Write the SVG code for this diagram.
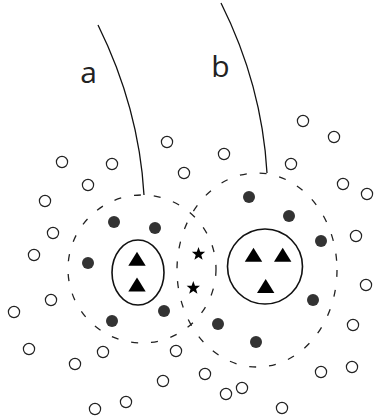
<svg xmlns="http://www.w3.org/2000/svg" width="374" height="419" viewBox="0 0 374 419">
<defs>
<style>
.open{fill:#fff;stroke:#222;stroke-width:1.2}
.dot{fill:#333}
.zone{fill:none;stroke:#222;stroke-width:1.3;stroke-dasharray:7 13}
.wall{fill:none;stroke:#111;stroke-width:1.6}
.lead{fill:none;stroke:#111;stroke-width:1.3}
.tri{fill:#000}
.lbl{font-family:"Open Sans","DejaVu Sans",sans-serif;font-size:30px;fill:#222;text-anchor:middle}
</style>
<circle id="o" r="5.6" class="open"/>
<circle id="d" r="6" class="dot"/>
<polygon id="tr" class="tri" points="0,-7 8.7,7 -8.7,7"/>
<polygon id="st" fill="#000" points="0,-7 1.7,-2.35 6.66,-2.16 2.76,0.9 4.11,5.66 0,2.9 -4.11,5.66 -2.76,0.9 -6.66,-2.16 -1.7,-2.35"/>
</defs>
<rect width="374" height="419" fill="#fff"/>
<g id="connectors">
<path class="lead" d="M98,25 Q139,108 144,195"/>
<path class="lead" d="M221,3 Q262,85 267,173"/>
</g>
<g id="label-a"><text class="lbl" x="88.5" y="83">a</text></g>
<g id="label-b"><text class="lbl" x="220.5" y="77">b</text></g>
<g id="zone-a"><circle class="zone" cx="142" cy="269" r="74"/></g>
<g id="zone-b"><ellipse class="zone" cx="257" cy="270" rx="80" ry="97"/></g>
<g id="cell-a">
<ellipse class="wall" cx="138" cy="272.5" rx="26" ry="32.5"/>
<use href="#tr" x="137" y="258.7"/>
<use href="#tr" x="137" y="284.5"/>
</g>
<g id="cell-b">
<circle class="wall" cx="265" cy="266.5" r="37.5"/>
<use href="#tr" x="253.5" y="254.7"/>
<use href="#tr" x="282.7" y="254.7"/>
<use href="#tr" x="265.7" y="286"/>
</g>
<g id="stars">
<use href="#st" x="198.5" y="254"/>
<use href="#st" x="193.3" y="288"/>
</g>
<g id="filled">
<use href="#d" x="114" y="222"/>
<use href="#d" x="155" y="228"/>
<use href="#d" x="88" y="263"/>
<use href="#d" x="164" y="311"/>
<use href="#d" x="112" y="321"/>
<use href="#d" x="218" y="324"/>
<use href="#d" x="256" y="342"/>
<use href="#d" x="313" y="300"/>
<use href="#d" x="321" y="241"/>
<use href="#d" x="289" y="216"/>
<use href="#d" x="249" y="197"/>
</g>
<g id="open">
<use href="#o" x="62" y="162"/>
<use href="#o" x="112" y="164"/>
<use href="#o" x="88" y="185"/>
<use href="#o" x="45" y="201"/>
<use href="#o" x="167" y="142"/>
<use href="#o" x="184" y="173"/>
<use href="#o" x="224" y="154"/>
<use href="#o" x="291" y="164"/>
<use href="#o" x="303" y="121"/>
<use href="#o" x="334" y="137"/>
<use href="#o" x="343" y="184"/>
<use href="#o" x="367" y="194"/>
<use href="#o" x="53" y="233"/>
<use href="#o" x="34" y="255"/>
<use href="#o" x="51" y="300"/>
<use href="#o" x="14" y="312"/>
<use href="#o" x="29" y="349"/>
<use href="#o" x="103" y="352"/>
<use href="#o" x="75" y="364"/>
<use href="#o" x="176" y="351"/>
<use href="#o" x="163" y="381"/>
<use href="#o" x="205" y="374"/>
<use href="#o" x="226" y="394"/>
<use href="#o" x="242" y="388"/>
<use href="#o" x="282" y="408"/>
<use href="#o" x="321" y="372"/>
<use href="#o" x="352" y="367"/>
<use href="#o" x="353" y="325"/>
<use href="#o" x="366" y="285"/>
<use href="#o" x="356" y="236"/>
<use href="#o" x="95" y="409"/>
<use href="#o" x="126" y="402"/>
</g>
</svg>
